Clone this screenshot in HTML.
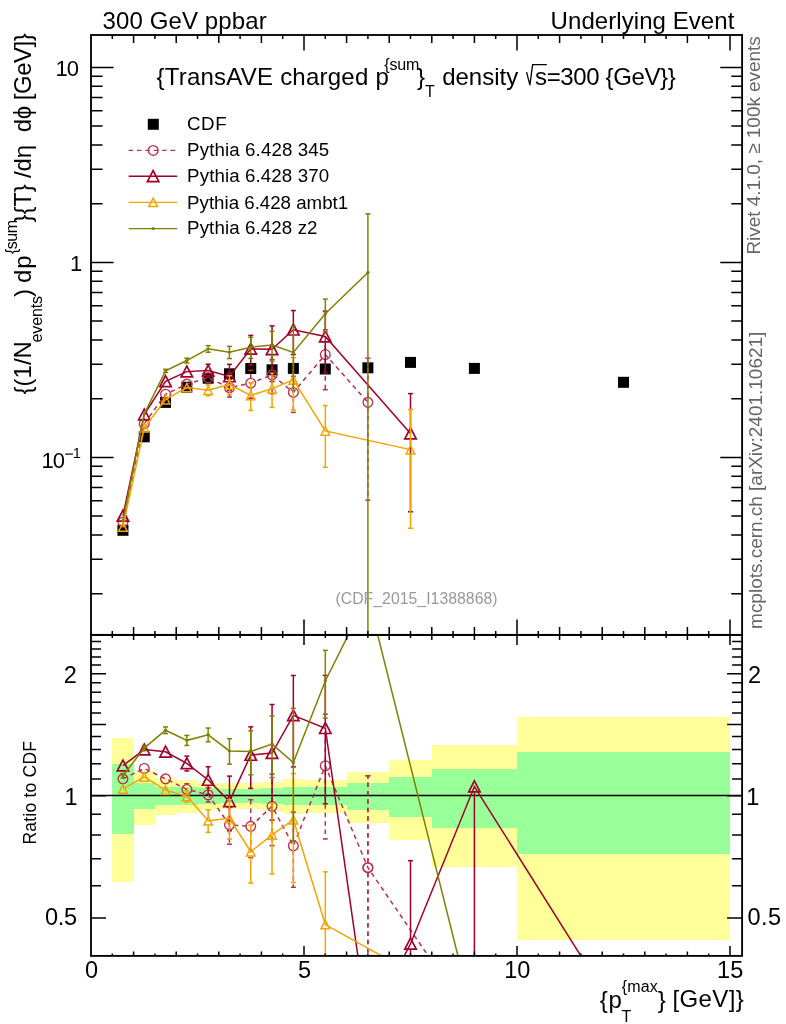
<!DOCTYPE html>
<html><head><meta charset="utf-8"><title>plot</title>
<style>html,body{margin:0;padding:0;background:#fff;} body{width:786px;height:1024px;position:relative;overflow:hidden;}</style>
</head><body>
<svg width="786" height="1024" viewBox="0 0 786 1024" style="position:absolute;left:0;top:0">
<defs><clipPath id="ct"><rect x="91.0" y="35.0" width="651.1" height="599.9"/></clipPath><clipPath id="cr"><rect x="91.0" y="634.9" width="651.1" height="321.0"/></clipPath></defs>
<g clip-path="url(#cr)" shape-rendering="crispEdges">
<rect x="112.30" y="738.17" width="21.30" height="143.83" fill="#ffff99"/>
<rect x="133.60" y="770.87" width="21.30" height="53.97" fill="#ffff99"/>
<rect x="154.90" y="778.21" width="21.30" height="37.13" fill="#ffff99"/>
<rect x="176.20" y="780.14" width="21.30" height="32.86" fill="#ffff99"/>
<rect x="197.50" y="782.90" width="21.30" height="26.83" fill="#ffff99"/>
<rect x="218.80" y="783.39" width="21.30" height="25.76" fill="#ffff99"/>
<rect x="240.10" y="783.22" width="21.30" height="26.12" fill="#ffff99"/>
<rect x="261.40" y="782.08" width="21.30" height="28.60" fill="#ffff99"/>
<rect x="282.70" y="779.17" width="21.30" height="34.99" fill="#ffff99"/>
<rect x="304.00" y="779.81" width="42.60" height="33.57" fill="#ffff99"/>
<rect x="346.60" y="772.10" width="42.60" height="51.09" fill="#ffff99"/>
<rect x="389.20" y="760.48" width="42.60" height="79.53" fill="#ffff99"/>
<rect x="431.80" y="745.43" width="85.20" height="121.17" fill="#ffff99"/>
<rect x="517.00" y="717.47" width="213.00" height="222.95" fill="#ffff99"/>
<rect x="112.30" y="764.42" width="21.30" height="69.59" fill="#99ff99"/>
<rect x="133.60" y="783.39" width="21.30" height="25.76" fill="#99ff99"/>
<rect x="154.90" y="787.04" width="21.30" height="17.98" fill="#99ff99"/>
<rect x="176.20" y="786.70" width="21.30" height="18.69" fill="#99ff99"/>
<rect x="197.50" y="787.71" width="21.30" height="16.57" fill="#99ff99"/>
<rect x="218.80" y="789.23" width="21.30" height="13.39" fill="#99ff99"/>
<rect x="240.10" y="788.89" width="21.30" height="14.10" fill="#99ff99"/>
<rect x="261.40" y="788.38" width="21.30" height="15.16" fill="#99ff99"/>
<rect x="282.70" y="787.21" width="21.30" height="17.63" fill="#99ff99"/>
<rect x="304.00" y="786.87" width="42.60" height="18.34" fill="#99ff99"/>
<rect x="346.60" y="783.06" width="42.60" height="26.47" fill="#99ff99"/>
<rect x="389.20" y="777.10" width="42.60" height="39.62" fill="#99ff99"/>
<rect x="431.80" y="768.60" width="85.20" height="59.39" fill="#99ff99"/>
<rect x="517.00" y="752.32" width="213.00" height="101.35" fill="#99ff99"/>
</g>
<line x1="91.0" y1="795.5" x2="742.1" y2="795.5" stroke="#000" stroke-width="1.4"/>
<g clip-path="url(#ct)">
<rect x="117.45" y="524.80" width="11" height="11" fill="#000"/>
<rect x="138.75" y="431.30" width="11" height="11" fill="#000"/>
<rect x="160.05" y="396.90" width="11" height="11" fill="#000"/>
<rect x="181.35" y="381.70" width="11" height="11" fill="#000"/>
<rect x="202.65" y="372.70" width="11" height="11" fill="#000"/>
<rect x="223.95" y="368.30" width="11" height="11" fill="#000"/>
<rect x="245.25" y="363.00" width="11" height="11" fill="#000"/>
<rect x="266.55" y="364.30" width="11" height="11" fill="#000"/>
<rect x="287.85" y="362.90" width="11" height="11" fill="#000"/>
<rect x="319.80" y="363.50" width="11" height="11" fill="#000"/>
<rect x="362.40" y="362.30" width="11" height="11" fill="#000"/>
<rect x="405.00" y="356.90" width="11" height="11" fill="#000"/>
<rect x="468.90" y="362.90" width="11" height="11" fill="#000"/>
<rect x="618.00" y="376.80" width="11" height="11" fill="#000"/>
<line x1="229.45" y1="382.76" x2="229.45" y2="379.38" stroke="#b8304f" stroke-width="1.5" stroke-dasharray="4.5,3.9"/>
<line x1="226.95" y1="379.38" x2="231.95" y2="379.38" stroke="#b8304f" stroke-width="1.5"/>
<line x1="229.45" y1="392.76" x2="229.45" y2="397.06" stroke="#b8304f" stroke-width="1.5" stroke-dasharray="4.5,3.9"/>
<line x1="226.95" y1="397.06" x2="231.95" y2="397.06" stroke="#b8304f" stroke-width="1.5"/>
<line x1="250.75" y1="378.16" x2="250.75" y2="370.38" stroke="#b8304f" stroke-width="1.5" stroke-dasharray="4.5,3.9"/>
<line x1="248.25" y1="370.38" x2="253.25" y2="370.38" stroke="#b8304f" stroke-width="1.5"/>
<line x1="250.75" y1="388.16" x2="250.75" y2="398.23" stroke="#b8304f" stroke-width="1.5" stroke-dasharray="4.5,3.9"/>
<line x1="248.25" y1="398.23" x2="253.25" y2="398.23" stroke="#b8304f" stroke-width="1.5"/>
<line x1="272.05" y1="369.86" x2="272.05" y2="359.42" stroke="#b8304f" stroke-width="1.5" stroke-dasharray="4.5,3.9"/>
<line x1="269.55" y1="359.42" x2="274.55" y2="359.42" stroke="#b8304f" stroke-width="1.5"/>
<line x1="272.05" y1="379.86" x2="272.05" y2="393.76" stroke="#b8304f" stroke-width="1.5" stroke-dasharray="4.5,3.9"/>
<line x1="269.55" y1="393.76" x2="274.55" y2="393.76" stroke="#b8304f" stroke-width="1.5"/>
<line x1="293.35" y1="387.42" x2="293.35" y2="376.28" stroke="#b8304f" stroke-width="1.5" stroke-dasharray="4.5,3.9"/>
<line x1="290.85" y1="376.28" x2="295.85" y2="376.28" stroke="#b8304f" stroke-width="1.5"/>
<line x1="293.35" y1="397.42" x2="293.35" y2="412.39" stroke="#b8304f" stroke-width="1.5" stroke-dasharray="4.5,3.9"/>
<line x1="290.85" y1="412.39" x2="295.85" y2="412.39" stroke="#b8304f" stroke-width="1.5"/>
<line x1="325.30" y1="349.55" x2="325.30" y2="329.77" stroke="#b8304f" stroke-width="1.5" stroke-dasharray="4.5,3.9"/>
<line x1="322.80" y1="329.77" x2="327.80" y2="329.77" stroke="#b8304f" stroke-width="1.5"/>
<line x1="325.30" y1="359.55" x2="325.30" y2="389.74" stroke="#b8304f" stroke-width="1.5" stroke-dasharray="4.5,3.9"/>
<line x1="322.80" y1="389.74" x2="327.80" y2="389.74" stroke="#b8304f" stroke-width="1.5"/>
<line x1="367.90" y1="397.35" x2="367.90" y2="358.16" stroke="#b8304f" stroke-width="1.5" stroke-dasharray="4.5,3.9"/>
<line x1="365.40" y1="358.16" x2="370.40" y2="358.16" stroke="#b8304f" stroke-width="1.5"/>
<line x1="367.90" y1="407.35" x2="367.90" y2="500.18" stroke="#b8304f" stroke-width="1.5" stroke-dasharray="4.5,3.9"/>
<line x1="365.40" y1="500.18" x2="370.40" y2="500.18" stroke="#b8304f" stroke-width="1.5"/>
<polyline points="122.95,522.15 144.25,423.65 165.55,394.25 186.85,384.12 208.15,377.69 229.45,387.76 250.75,383.16 272.05,374.86 293.35,392.42 325.30,354.55 367.90,402.35" fill="none" stroke="#b8304f" stroke-width="1.5" stroke-dasharray="4.5,3.9"/>
<circle cx="122.95" cy="522.15" r="4.85" fill="none" stroke="#b8304f" stroke-width="1.35"/>
<circle cx="144.25" cy="423.65" r="4.85" fill="none" stroke="#b8304f" stroke-width="1.35"/>
<circle cx="165.55" cy="394.25" r="4.85" fill="none" stroke="#b8304f" stroke-width="1.35"/>
<circle cx="186.85" cy="384.12" r="4.85" fill="none" stroke="#b8304f" stroke-width="1.35"/>
<circle cx="208.15" cy="377.69" r="4.85" fill="none" stroke="#b8304f" stroke-width="1.35"/>
<circle cx="229.45" cy="387.76" r="4.85" fill="none" stroke="#b8304f" stroke-width="1.35"/>
<circle cx="250.75" cy="383.16" r="4.85" fill="none" stroke="#b8304f" stroke-width="1.35"/>
<circle cx="272.05" cy="374.86" r="4.85" fill="none" stroke="#b8304f" stroke-width="1.35"/>
<circle cx="293.35" cy="392.42" r="4.85" fill="none" stroke="#b8304f" stroke-width="1.35"/>
<circle cx="325.30" cy="354.55" r="4.85" fill="none" stroke="#b8304f" stroke-width="1.35"/>
<circle cx="367.90" cy="402.35" r="4.85" fill="none" stroke="#b8304f" stroke-width="1.35"/>
<line x1="208.15" y1="364.59" x2="208.15" y2="364.23" stroke="#a0002a" stroke-width="1.5"/>
<line x1="205.65" y1="364.23" x2="210.65" y2="364.23" stroke="#a0002a" stroke-width="1.5"/>
<line x1="208.15" y1="376.59" x2="208.15" y2="377.47" stroke="#a0002a" stroke-width="1.5"/>
<line x1="205.65" y1="377.47" x2="210.65" y2="377.47" stroke="#a0002a" stroke-width="1.5"/>
<line x1="229.45" y1="370.47" x2="229.45" y2="364.34" stroke="#a0002a" stroke-width="1.5"/>
<line x1="226.95" y1="364.34" x2="231.95" y2="364.34" stroke="#a0002a" stroke-width="1.5"/>
<line x1="229.45" y1="382.47" x2="229.45" y2="390.63" stroke="#a0002a" stroke-width="1.5"/>
<line x1="226.95" y1="390.63" x2="231.95" y2="390.63" stroke="#a0002a" stroke-width="1.5"/>
<line x1="250.75" y1="342.86" x2="250.75" y2="335.35" stroke="#a0002a" stroke-width="1.5"/>
<line x1="248.25" y1="335.35" x2="253.25" y2="335.35" stroke="#a0002a" stroke-width="1.5"/>
<line x1="250.75" y1="354.86" x2="250.75" y2="364.95" stroke="#a0002a" stroke-width="1.5"/>
<line x1="248.25" y1="364.95" x2="253.25" y2="364.95" stroke="#a0002a" stroke-width="1.5"/>
<line x1="272.05" y1="343.23" x2="272.05" y2="325.91" stroke="#a0002a" stroke-width="1.5"/>
<line x1="269.55" y1="325.91" x2="274.55" y2="325.91" stroke="#a0002a" stroke-width="1.5"/>
<line x1="272.05" y1="355.23" x2="272.05" y2="381.51" stroke="#a0002a" stroke-width="1.5"/>
<line x1="269.55" y1="381.51" x2="274.55" y2="381.51" stroke="#a0002a" stroke-width="1.5"/>
<line x1="293.35" y1="323.72" x2="293.35" y2="310.55" stroke="#a0002a" stroke-width="1.5"/>
<line x1="290.85" y1="310.55" x2="295.85" y2="310.55" stroke="#a0002a" stroke-width="1.5"/>
<line x1="293.35" y1="335.72" x2="293.35" y2="354.53" stroke="#a0002a" stroke-width="1.5"/>
<line x1="290.85" y1="354.53" x2="295.85" y2="354.53" stroke="#a0002a" stroke-width="1.5"/>
<line x1="325.30" y1="330.49" x2="325.30" y2="311.14" stroke="#a0002a" stroke-width="1.5"/>
<line x1="322.80" y1="311.14" x2="327.80" y2="311.14" stroke="#a0002a" stroke-width="1.5"/>
<line x1="325.30" y1="342.49" x2="325.30" y2="372.84" stroke="#a0002a" stroke-width="1.5"/>
<line x1="322.80" y1="372.84" x2="327.80" y2="372.84" stroke="#a0002a" stroke-width="1.5"/>
<line x1="410.50" y1="427.54" x2="410.50" y2="393.58" stroke="#a0002a" stroke-width="1.5"/>
<line x1="408.00" y1="393.58" x2="413.00" y2="393.58" stroke="#a0002a" stroke-width="1.5"/>
<line x1="410.50" y1="439.54" x2="410.50" y2="511.78" stroke="#a0002a" stroke-width="1.5"/>
<line x1="408.00" y1="511.78" x2="413.00" y2="511.78" stroke="#a0002a" stroke-width="1.5"/>
<polyline points="122.95,515.78 144.25,414.58 165.55,381.23 186.85,371.62 208.15,370.59 229.45,376.47 250.75,348.86 272.05,349.23 293.35,329.72 325.30,336.49 410.50,433.54" fill="none" stroke="#a0002a" stroke-width="1.5"/>
<path d="M117.25,521.08L128.65,521.08L122.95,510.18Z" fill="none" stroke="#a0002a" stroke-width="1.7"/>
<path d="M138.55,419.88L149.95,419.88L144.25,408.98Z" fill="none" stroke="#a0002a" stroke-width="1.7"/>
<path d="M159.85,386.53L171.25,386.53L165.55,375.63Z" fill="none" stroke="#a0002a" stroke-width="1.7"/>
<path d="M181.15,376.92L192.55,376.92L186.85,366.02Z" fill="none" stroke="#a0002a" stroke-width="1.7"/>
<path d="M202.45,375.89L213.85,375.89L208.15,364.99Z" fill="none" stroke="#a0002a" stroke-width="1.7"/>
<path d="M223.75,381.77L235.15,381.77L229.45,370.87Z" fill="none" stroke="#a0002a" stroke-width="1.7"/>
<path d="M245.05,354.16L256.45,354.16L250.75,343.26Z" fill="none" stroke="#a0002a" stroke-width="1.7"/>
<path d="M266.35,354.53L277.75,354.53L272.05,343.63Z" fill="none" stroke="#a0002a" stroke-width="1.7"/>
<path d="M287.65,335.02L299.05,335.02L293.35,324.12Z" fill="none" stroke="#a0002a" stroke-width="1.7"/>
<path d="M319.60,341.79L331.00,341.79L325.30,330.89Z" fill="none" stroke="#a0002a" stroke-width="1.7"/>
<path d="M404.80,438.84L416.20,438.84L410.50,427.94Z" fill="none" stroke="#a0002a" stroke-width="1.7"/>
<line x1="208.15" y1="385.69" x2="208.15" y2="384.94" stroke="#f5a300" stroke-width="1.5"/>
<line x1="205.65" y1="384.94" x2="210.65" y2="384.94" stroke="#f5a300" stroke-width="1.5"/>
<line x1="208.15" y1="394.69" x2="208.15" y2="395.79" stroke="#f5a300" stroke-width="1.5"/>
<line x1="205.65" y1="395.79" x2="210.65" y2="395.79" stroke="#f5a300" stroke-width="1.5"/>
<line x1="229.45" y1="380.13" x2="229.45" y2="375.71" stroke="#f5a300" stroke-width="1.5"/>
<line x1="226.95" y1="375.71" x2="231.95" y2="375.71" stroke="#f5a300" stroke-width="1.5"/>
<line x1="229.45" y1="389.13" x2="229.45" y2="394.59" stroke="#f5a300" stroke-width="1.5"/>
<line x1="226.95" y1="394.59" x2="231.95" y2="394.59" stroke="#f5a300" stroke-width="1.5"/>
<line x1="250.75" y1="390.88" x2="250.75" y2="382.60" stroke="#f5a300" stroke-width="1.5"/>
<line x1="248.25" y1="382.60" x2="253.25" y2="382.60" stroke="#f5a300" stroke-width="1.5"/>
<line x1="250.75" y1="399.88" x2="250.75" y2="410.45" stroke="#f5a300" stroke-width="1.5"/>
<line x1="248.25" y1="410.45" x2="253.25" y2="410.45" stroke="#f5a300" stroke-width="1.5"/>
<line x1="272.05" y1="384.13" x2="272.05" y2="373.26" stroke="#f5a300" stroke-width="1.5"/>
<line x1="269.55" y1="373.26" x2="274.55" y2="373.26" stroke="#f5a300" stroke-width="1.5"/>
<line x1="272.05" y1="393.13" x2="272.05" y2="407.43" stroke="#f5a300" stroke-width="1.5"/>
<line x1="269.55" y1="407.43" x2="274.55" y2="407.43" stroke="#f5a300" stroke-width="1.5"/>
<line x1="293.35" y1="375.40" x2="293.35" y2="357.68" stroke="#f5a300" stroke-width="1.5"/>
<line x1="290.85" y1="357.68" x2="295.85" y2="357.68" stroke="#f5a300" stroke-width="1.5"/>
<line x1="293.35" y1="384.40" x2="293.35" y2="410.11" stroke="#f5a300" stroke-width="1.5"/>
<line x1="290.85" y1="410.11" x2="295.85" y2="410.11" stroke="#f5a300" stroke-width="1.5"/>
<line x1="325.30" y1="426.39" x2="325.30" y2="405.54" stroke="#f5a300" stroke-width="1.5"/>
<line x1="322.80" y1="405.54" x2="327.80" y2="405.54" stroke="#f5a300" stroke-width="1.5"/>
<line x1="325.30" y1="435.39" x2="325.30" y2="467.25" stroke="#f5a300" stroke-width="1.5"/>
<line x1="322.80" y1="467.25" x2="327.80" y2="467.25" stroke="#f5a300" stroke-width="1.5"/>
<line x1="410.50" y1="445.13" x2="410.50" y2="409.56" stroke="#f5a300" stroke-width="1.5"/>
<line x1="408.00" y1="409.56" x2="413.00" y2="409.56" stroke="#f5a300" stroke-width="1.5"/>
<line x1="410.50" y1="454.13" x2="410.50" y2="528.29" stroke="#f5a300" stroke-width="1.5"/>
<line x1="408.00" y1="528.29" x2="413.00" y2="528.29" stroke="#f5a300" stroke-width="1.5"/>
<polyline points="122.95,526.98 144.25,427.73 165.55,399.65 186.85,387.45 208.15,390.19 229.45,384.63 250.75,395.38 272.05,388.63 293.35,379.90 325.30,430.89 410.50,449.63" fill="none" stroke="#f5a300" stroke-width="1.5"/>
<path d="M118.65,531.28L127.25,531.28L122.95,522.83Z" fill="none" stroke="#f5a300" stroke-width="1.5"/>
<path d="M139.95,432.03L148.55,432.03L144.25,423.58Z" fill="none" stroke="#f5a300" stroke-width="1.5"/>
<path d="M161.25,403.95L169.85,403.95L165.55,395.50Z" fill="none" stroke="#f5a300" stroke-width="1.5"/>
<path d="M182.55,391.75L191.15,391.75L186.85,383.30Z" fill="none" stroke="#f5a300" stroke-width="1.5"/>
<path d="M203.85,394.49L212.45,394.49L208.15,386.04Z" fill="none" stroke="#f5a300" stroke-width="1.5"/>
<path d="M225.15,388.93L233.75,388.93L229.45,380.48Z" fill="none" stroke="#f5a300" stroke-width="1.5"/>
<path d="M246.45,399.68L255.05,399.68L250.75,391.23Z" fill="none" stroke="#f5a300" stroke-width="1.5"/>
<path d="M267.75,392.93L276.35,392.93L272.05,384.48Z" fill="none" stroke="#f5a300" stroke-width="1.5"/>
<path d="M289.05,384.20L297.65,384.20L293.35,375.75Z" fill="none" stroke="#f5a300" stroke-width="1.5"/>
<path d="M321.00,435.19L329.60,435.19L325.30,426.74Z" fill="none" stroke="#f5a300" stroke-width="1.5"/>
<path d="M406.20,453.93L414.80,453.93L410.50,445.48Z" fill="none" stroke="#f5a300" stroke-width="1.5"/>
<line x1="165.55" y1="369.37" x2="165.55" y2="369.28" stroke="#808000" stroke-width="1.5"/>
<line x1="163.05" y1="369.28" x2="168.05" y2="369.28" stroke="#808000" stroke-width="1.5"/>
<line x1="165.55" y1="372.37" x2="165.55" y2="372.50" stroke="#808000" stroke-width="1.5"/>
<line x1="163.05" y1="372.50" x2="168.05" y2="372.50" stroke="#808000" stroke-width="1.5"/>
<line x1="186.85" y1="359.04" x2="186.85" y2="358.16" stroke="#808000" stroke-width="1.5"/>
<line x1="184.35" y1="358.16" x2="189.35" y2="358.16" stroke="#808000" stroke-width="1.5"/>
<line x1="186.85" y1="362.04" x2="186.85" y2="362.99" stroke="#808000" stroke-width="1.5"/>
<line x1="184.35" y1="362.99" x2="189.35" y2="362.99" stroke="#808000" stroke-width="1.5"/>
<line x1="208.15" y1="347.36" x2="208.15" y2="345.62" stroke="#808000" stroke-width="1.5"/>
<line x1="205.65" y1="345.62" x2="210.65" y2="345.62" stroke="#808000" stroke-width="1.5"/>
<line x1="208.15" y1="350.36" x2="208.15" y2="352.23" stroke="#808000" stroke-width="1.5"/>
<line x1="205.65" y1="352.23" x2="210.65" y2="352.23" stroke="#808000" stroke-width="1.5"/>
<line x1="229.45" y1="350.74" x2="229.45" y2="346.35" stroke="#808000" stroke-width="1.5"/>
<line x1="226.95" y1="346.35" x2="231.95" y2="346.35" stroke="#808000" stroke-width="1.5"/>
<line x1="229.45" y1="353.74" x2="229.45" y2="358.56" stroke="#808000" stroke-width="1.5"/>
<line x1="226.95" y1="358.56" x2="231.95" y2="358.56" stroke="#808000" stroke-width="1.5"/>
<line x1="250.75" y1="345.70" x2="250.75" y2="337.30" stroke="#808000" stroke-width="1.5"/>
<line x1="248.25" y1="337.30" x2="253.25" y2="337.30" stroke="#808000" stroke-width="1.5"/>
<line x1="250.75" y1="348.70" x2="250.75" y2="358.41" stroke="#808000" stroke-width="1.5"/>
<line x1="248.25" y1="358.41" x2="253.25" y2="358.41" stroke="#808000" stroke-width="1.5"/>
<line x1="272.05" y1="343.45" x2="272.05" y2="331.44" stroke="#808000" stroke-width="1.5"/>
<line x1="269.55" y1="331.44" x2="274.55" y2="331.44" stroke="#808000" stroke-width="1.5"/>
<line x1="272.05" y1="346.45" x2="272.05" y2="361.04" stroke="#808000" stroke-width="1.5"/>
<line x1="269.55" y1="361.04" x2="274.55" y2="361.04" stroke="#808000" stroke-width="1.5"/>
<line x1="293.35" y1="350.90" x2="293.35" y2="326.36" stroke="#808000" stroke-width="1.5"/>
<line x1="290.85" y1="326.36" x2="295.85" y2="326.36" stroke="#808000" stroke-width="1.5"/>
<line x1="293.35" y1="353.90" x2="293.35" y2="390.19" stroke="#808000" stroke-width="1.5"/>
<line x1="290.85" y1="390.19" x2="295.85" y2="390.19" stroke="#808000" stroke-width="1.5"/>
<line x1="325.30" y1="312.30" x2="325.30" y2="299.07" stroke="#808000" stroke-width="1.5"/>
<line x1="322.80" y1="299.07" x2="327.80" y2="299.07" stroke="#808000" stroke-width="1.5"/>
<line x1="325.30" y1="315.30" x2="325.30" y2="331.65" stroke="#808000" stroke-width="1.5"/>
<line x1="322.80" y1="331.65" x2="327.80" y2="331.65" stroke="#808000" stroke-width="1.5"/>
<line x1="367.90" y1="271.00" x2="367.90" y2="213.80" stroke="#808000" stroke-width="1.5"/>
<line x1="365.40" y1="213.80" x2="370.40" y2="213.80" stroke="#808000" stroke-width="1.5"/>
<line x1="367.90" y1="274.00" x2="367.90" y2="639.90" stroke="#808000" stroke-width="1.5"/>
<line x1="365.40" y1="639.90" x2="370.40" y2="639.90" stroke="#808000" stroke-width="1.5"/>
<polyline points="122.95,520.63 144.25,413.87 165.55,370.87 186.85,360.54 208.15,348.86 229.45,352.24 250.75,347.20 272.05,344.95 293.35,352.40 325.30,313.80 367.90,272.50" fill="none" stroke="#808000" stroke-width="1.5"/>
<circle cx="122.95" cy="520.63" r="1.7" fill="#808000"/>
<circle cx="144.25" cy="413.87" r="1.7" fill="#808000"/>
<circle cx="165.55" cy="370.87" r="1.7" fill="#808000"/>
<circle cx="186.85" cy="360.54" r="1.7" fill="#808000"/>
<circle cx="208.15" cy="348.86" r="1.7" fill="#808000"/>
<circle cx="229.45" cy="352.24" r="1.7" fill="#808000"/>
<circle cx="250.75" cy="347.20" r="1.7" fill="#808000"/>
<circle cx="272.05" cy="344.95" r="1.7" fill="#808000"/>
<circle cx="293.35" cy="352.40" r="1.7" fill="#808000"/>
<circle cx="325.30" cy="313.80" r="1.7" fill="#808000"/>
<circle cx="367.90" cy="272.50" r="1.7" fill="#808000"/>
</g>
<g clip-path="url(#cr)">
<line x1="186.85" y1="784.40" x2="186.85" y2="783.68" stroke="#b8304f" stroke-width="1.5" stroke-dasharray="4.5,3.9"/>
<line x1="184.35" y1="783.68" x2="189.35" y2="783.68" stroke="#b8304f" stroke-width="1.5"/>
<line x1="186.85" y1="794.40" x2="186.85" y2="795.31" stroke="#b8304f" stroke-width="1.5" stroke-dasharray="4.5,3.9"/>
<line x1="184.35" y1="795.31" x2="189.35" y2="795.31" stroke="#b8304f" stroke-width="1.5"/>
<line x1="208.15" y1="789.75" x2="208.15" y2="787.84" stroke="#b8304f" stroke-width="1.5" stroke-dasharray="4.5,3.9"/>
<line x1="205.65" y1="787.84" x2="210.65" y2="787.84" stroke="#b8304f" stroke-width="1.5"/>
<line x1="208.15" y1="799.75" x2="208.15" y2="801.94" stroke="#b8304f" stroke-width="1.5" stroke-dasharray="4.5,3.9"/>
<line x1="205.65" y1="801.94" x2="210.65" y2="801.94" stroke="#b8304f" stroke-width="1.5"/>
<line x1="229.45" y1="819.84" x2="229.45" y2="807.41" stroke="#b8304f" stroke-width="1.5" stroke-dasharray="4.5,3.9"/>
<line x1="226.95" y1="807.41" x2="231.95" y2="807.41" stroke="#b8304f" stroke-width="1.5"/>
<line x1="229.45" y1="829.84" x2="229.45" y2="844.19" stroke="#b8304f" stroke-width="1.5" stroke-dasharray="4.5,3.9"/>
<line x1="226.95" y1="844.19" x2="231.95" y2="844.19" stroke="#b8304f" stroke-width="1.5"/>
<line x1="250.75" y1="821.30" x2="250.75" y2="799.70" stroke="#b8304f" stroke-width="1.5" stroke-dasharray="4.5,3.9"/>
<line x1="248.25" y1="799.70" x2="253.25" y2="799.70" stroke="#b8304f" stroke-width="1.5"/>
<line x1="250.75" y1="831.30" x2="250.75" y2="857.65" stroke="#b8304f" stroke-width="1.5" stroke-dasharray="4.5,3.9"/>
<line x1="248.25" y1="857.65" x2="253.25" y2="857.65" stroke="#b8304f" stroke-width="1.5"/>
<line x1="272.05" y1="801.32" x2="272.05" y2="774.21" stroke="#b8304f" stroke-width="1.5" stroke-dasharray="4.5,3.9"/>
<line x1="269.55" y1="774.21" x2="274.55" y2="774.21" stroke="#b8304f" stroke-width="1.5"/>
<line x1="272.05" y1="811.32" x2="272.05" y2="845.63" stroke="#b8304f" stroke-width="1.5" stroke-dasharray="4.5,3.9"/>
<line x1="269.55" y1="845.63" x2="274.55" y2="845.63" stroke="#b8304f" stroke-width="1.5"/>
<line x1="293.35" y1="840.77" x2="293.35" y2="812.19" stroke="#b8304f" stroke-width="1.5" stroke-dasharray="4.5,3.9"/>
<line x1="290.85" y1="812.19" x2="295.85" y2="812.19" stroke="#b8304f" stroke-width="1.5"/>
<line x1="293.35" y1="850.77" x2="293.35" y2="887.29" stroke="#b8304f" stroke-width="1.5" stroke-dasharray="4.5,3.9"/>
<line x1="290.85" y1="887.29" x2="295.85" y2="887.29" stroke="#b8304f" stroke-width="1.5"/>
<line x1="325.30" y1="760.75" x2="325.30" y2="714.20" stroke="#b8304f" stroke-width="1.5" stroke-dasharray="4.5,3.9"/>
<line x1="322.80" y1="714.20" x2="327.80" y2="714.20" stroke="#b8304f" stroke-width="1.5"/>
<line x1="325.30" y1="770.75" x2="325.30" y2="838.94" stroke="#b8304f" stroke-width="1.5" stroke-dasharray="4.5,3.9"/>
<line x1="322.80" y1="838.94" x2="327.80" y2="838.94" stroke="#b8304f" stroke-width="1.5"/>
<line x1="367.90" y1="862.66" x2="367.90" y2="775.75" stroke="#b8304f" stroke-width="1.5" stroke-dasharray="4.5,3.9"/>
<line x1="365.40" y1="775.75" x2="370.40" y2="775.75" stroke="#b8304f" stroke-width="1.5"/>
<line x1="367.90" y1="872.66" x2="367.90" y2="960.90" stroke="#b8304f" stroke-width="1.5" stroke-dasharray="4.5,3.9"/>
<line x1="365.40" y1="960.90" x2="370.40" y2="960.90" stroke="#b8304f" stroke-width="1.5"/>
<line x1="367.90" y1="862.66" x2="367.90" y2="775.75" stroke="#b8304f" stroke-width="1.5" stroke-dasharray="4.5,3.9"/>
<line x1="365.40" y1="775.75" x2="370.40" y2="775.75" stroke="#b8304f" stroke-width="1.5"/>
<line x1="367.90" y1="872.66" x2="367.90" y2="1071.15" stroke="#b8304f" stroke-width="1.5" stroke-dasharray="4.5,3.9"/>
<line x1="365.40" y1="1071.15" x2="370.40" y2="1071.15" stroke="#b8304f" stroke-width="1.5"/>
<polyline points="122.95,778.85 144.25,768.45 165.55,778.85 186.85,789.40 208.15,794.75 229.45,824.84 250.75,826.30 272.05,806.32 293.35,845.77 325.30,765.75 367.90,867.66 367.90,867.66 474.40,1023.50" fill="none" stroke="#b8304f" stroke-width="1.5" stroke-dasharray="4.5,3.9"/>
<circle cx="122.95" cy="778.85" r="4.85" fill="none" stroke="#b8304f" stroke-width="1.35"/>
<circle cx="144.25" cy="768.45" r="4.85" fill="none" stroke="#b8304f" stroke-width="1.35"/>
<circle cx="165.55" cy="778.85" r="4.85" fill="none" stroke="#b8304f" stroke-width="1.35"/>
<circle cx="186.85" cy="789.40" r="4.85" fill="none" stroke="#b8304f" stroke-width="1.35"/>
<circle cx="208.15" cy="794.75" r="4.85" fill="none" stroke="#b8304f" stroke-width="1.35"/>
<circle cx="229.45" cy="824.84" r="4.85" fill="none" stroke="#b8304f" stroke-width="1.35"/>
<circle cx="250.75" cy="826.30" r="4.85" fill="none" stroke="#b8304f" stroke-width="1.35"/>
<circle cx="272.05" cy="806.32" r="4.85" fill="none" stroke="#b8304f" stroke-width="1.35"/>
<circle cx="293.35" cy="845.77" r="4.85" fill="none" stroke="#b8304f" stroke-width="1.35"/>
<circle cx="325.30" cy="765.75" r="4.85" fill="none" stroke="#b8304f" stroke-width="1.35"/>
<circle cx="367.90" cy="867.66" r="4.85" fill="none" stroke="#b8304f" stroke-width="1.35"/>
<circle cx="367.90" cy="867.66" r="4.85" fill="none" stroke="#b8304f" stroke-width="1.35"/>
<line x1="186.85" y1="757.39" x2="186.85" y2="756.14" stroke="#a0002a" stroke-width="1.5"/>
<line x1="184.35" y1="756.14" x2="189.35" y2="756.14" stroke="#a0002a" stroke-width="1.5"/>
<line x1="186.85" y1="769.39" x2="186.85" y2="770.95" stroke="#a0002a" stroke-width="1.5"/>
<line x1="184.35" y1="770.95" x2="189.35" y2="770.95" stroke="#a0002a" stroke-width="1.5"/>
<line x1="208.15" y1="773.97" x2="208.15" y2="766.74" stroke="#a0002a" stroke-width="1.5"/>
<line x1="205.65" y1="766.74" x2="210.65" y2="766.74" stroke="#a0002a" stroke-width="1.5"/>
<line x1="208.15" y1="785.97" x2="208.15" y2="794.28" stroke="#a0002a" stroke-width="1.5"/>
<line x1="205.65" y1="794.28" x2="210.65" y2="794.28" stroke="#a0002a" stroke-width="1.5"/>
<line x1="229.45" y1="795.35" x2="229.45" y2="776.12" stroke="#a0002a" stroke-width="1.5"/>
<line x1="226.95" y1="776.12" x2="231.95" y2="776.12" stroke="#a0002a" stroke-width="1.5"/>
<line x1="229.45" y1="807.35" x2="229.45" y2="830.81" stroke="#a0002a" stroke-width="1.5"/>
<line x1="226.95" y1="830.81" x2="231.95" y2="830.81" stroke="#a0002a" stroke-width="1.5"/>
<line x1="250.75" y1="748.95" x2="250.75" y2="726.84" stroke="#a0002a" stroke-width="1.5"/>
<line x1="248.25" y1="726.84" x2="253.25" y2="726.84" stroke="#a0002a" stroke-width="1.5"/>
<line x1="250.75" y1="760.95" x2="250.75" y2="788.41" stroke="#a0002a" stroke-width="1.5"/>
<line x1="248.25" y1="788.41" x2="253.25" y2="788.41" stroke="#a0002a" stroke-width="1.5"/>
<line x1="272.05" y1="747.01" x2="272.05" y2="704.50" stroke="#a0002a" stroke-width="1.5"/>
<line x1="269.55" y1="704.50" x2="274.55" y2="704.50" stroke="#a0002a" stroke-width="1.5"/>
<line x1="272.05" y1="759.01" x2="272.05" y2="820.16" stroke="#a0002a" stroke-width="1.5"/>
<line x1="269.55" y1="820.16" x2="274.55" y2="820.16" stroke="#a0002a" stroke-width="1.5"/>
<line x1="293.35" y1="709.34" x2="293.35" y2="675.47" stroke="#a0002a" stroke-width="1.5"/>
<line x1="290.85" y1="675.47" x2="295.85" y2="675.47" stroke="#a0002a" stroke-width="1.5"/>
<line x1="293.35" y1="721.34" x2="293.35" y2="766.95" stroke="#a0002a" stroke-width="1.5"/>
<line x1="290.85" y1="766.95" x2="295.85" y2="766.95" stroke="#a0002a" stroke-width="1.5"/>
<line x1="325.30" y1="722.18" x2="325.30" y2="675.44" stroke="#a0002a" stroke-width="1.5"/>
<line x1="322.80" y1="675.44" x2="327.80" y2="675.44" stroke="#a0002a" stroke-width="1.5"/>
<line x1="325.30" y1="734.18" x2="325.30" y2="803.79" stroke="#a0002a" stroke-width="1.5"/>
<line x1="322.80" y1="803.79" x2="327.80" y2="803.79" stroke="#a0002a" stroke-width="1.5"/>
<line x1="410.50" y1="937.77" x2="410.50" y2="860.65" stroke="#a0002a" stroke-width="1.5"/>
<line x1="408.00" y1="860.65" x2="413.00" y2="860.65" stroke="#a0002a" stroke-width="1.5"/>
<line x1="410.50" y1="949.77" x2="410.50" y2="1106.50" stroke="#a0002a" stroke-width="1.5"/>
<line x1="408.00" y1="1106.50" x2="413.00" y2="1106.50" stroke="#a0002a" stroke-width="1.5"/>
<line x1="474.40" y1="792.54" x2="474.40" y2="960.90" stroke="#a0002a" stroke-width="1.5"/>
<line x1="471.90" y1="960.90" x2="476.90" y2="960.90" stroke="#a0002a" stroke-width="1.5"/>
<polyline points="122.95,765.60 144.25,749.58 165.55,751.77 186.85,763.39 208.15,779.97 229.45,801.35 250.75,754.95 272.05,753.01 293.35,715.34 325.30,728.18 367.90,1026.00 410.50,943.77 474.40,786.54 623.50,1023.70" fill="none" stroke="#a0002a" stroke-width="1.5"/>
<path d="M117.25,770.90L128.65,770.90L122.95,760.00Z" fill="none" stroke="#a0002a" stroke-width="1.7"/>
<path d="M138.55,754.88L149.95,754.88L144.25,743.98Z" fill="none" stroke="#a0002a" stroke-width="1.7"/>
<path d="M159.85,757.07L171.25,757.07L165.55,746.17Z" fill="none" stroke="#a0002a" stroke-width="1.7"/>
<path d="M181.15,768.69L192.55,768.69L186.85,757.79Z" fill="none" stroke="#a0002a" stroke-width="1.7"/>
<path d="M202.45,785.27L213.85,785.27L208.15,774.37Z" fill="none" stroke="#a0002a" stroke-width="1.7"/>
<path d="M223.75,806.65L235.15,806.65L229.45,795.75Z" fill="none" stroke="#a0002a" stroke-width="1.7"/>
<path d="M245.05,760.25L256.45,760.25L250.75,749.35Z" fill="none" stroke="#a0002a" stroke-width="1.7"/>
<path d="M266.35,758.31L277.75,758.31L272.05,747.41Z" fill="none" stroke="#a0002a" stroke-width="1.7"/>
<path d="M287.65,720.64L299.05,720.64L293.35,709.74Z" fill="none" stroke="#a0002a" stroke-width="1.7"/>
<path d="M319.60,733.48L331.00,733.48L325.30,722.58Z" fill="none" stroke="#a0002a" stroke-width="1.7"/>
<path d="M404.80,949.07L416.20,949.07L410.50,938.17Z" fill="none" stroke="#a0002a" stroke-width="1.7"/>
<path d="M468.70,791.84L480.10,791.84L474.40,780.94Z" fill="none" stroke="#a0002a" stroke-width="1.7"/>
<line x1="186.85" y1="791.83" x2="186.85" y2="790.78" stroke="#f5a300" stroke-width="1.5"/>
<line x1="184.35" y1="790.78" x2="189.35" y2="790.78" stroke="#f5a300" stroke-width="1.5"/>
<line x1="186.85" y1="800.83" x2="186.85" y2="802.06" stroke="#f5a300" stroke-width="1.5"/>
<line x1="184.35" y1="802.06" x2="189.35" y2="802.06" stroke="#f5a300" stroke-width="1.5"/>
<line x1="208.15" y1="816.24" x2="208.15" y2="809.81" stroke="#f5a300" stroke-width="1.5"/>
<line x1="205.65" y1="809.81" x2="210.65" y2="809.81" stroke="#f5a300" stroke-width="1.5"/>
<line x1="208.15" y1="825.24" x2="208.15" y2="832.39" stroke="#f5a300" stroke-width="1.5"/>
<line x1="205.65" y1="832.39" x2="210.65" y2="832.39" stroke="#f5a300" stroke-width="1.5"/>
<line x1="229.45" y1="813.82" x2="229.45" y2="799.78" stroke="#f5a300" stroke-width="1.5"/>
<line x1="226.95" y1="799.78" x2="231.95" y2="799.78" stroke="#f5a300" stroke-width="1.5"/>
<line x1="229.45" y1="822.82" x2="229.45" y2="839.04" stroke="#f5a300" stroke-width="1.5"/>
<line x1="226.95" y1="839.04" x2="231.95" y2="839.04" stroke="#f5a300" stroke-width="1.5"/>
<line x1="250.75" y1="847.22" x2="250.75" y2="825.12" stroke="#f5a300" stroke-width="1.5"/>
<line x1="248.25" y1="825.12" x2="253.25" y2="825.12" stroke="#f5a300" stroke-width="1.5"/>
<line x1="250.75" y1="856.22" x2="250.75" y2="883.06" stroke="#f5a300" stroke-width="1.5"/>
<line x1="248.25" y1="883.06" x2="253.25" y2="883.06" stroke="#f5a300" stroke-width="1.5"/>
<line x1="272.05" y1="830.47" x2="272.05" y2="803.01" stroke="#f5a300" stroke-width="1.5"/>
<line x1="269.55" y1="803.01" x2="274.55" y2="803.01" stroke="#f5a300" stroke-width="1.5"/>
<line x1="272.05" y1="839.47" x2="272.05" y2="874.06" stroke="#f5a300" stroke-width="1.5"/>
<line x1="269.55" y1="874.06" x2="274.55" y2="874.06" stroke="#f5a300" stroke-width="1.5"/>
<line x1="293.35" y1="815.22" x2="293.35" y2="773.51" stroke="#f5a300" stroke-width="1.5"/>
<line x1="290.85" y1="773.51" x2="295.85" y2="773.51" stroke="#f5a300" stroke-width="1.5"/>
<line x1="293.35" y1="824.22" x2="293.35" y2="882.55" stroke="#f5a300" stroke-width="1.5"/>
<line x1="290.85" y1="882.55" x2="295.85" y2="882.55" stroke="#f5a300" stroke-width="1.5"/>
<line x1="325.30" y1="920.04" x2="325.30" y2="871.81" stroke="#f5a300" stroke-width="1.5"/>
<line x1="322.80" y1="871.81" x2="327.80" y2="871.81" stroke="#f5a300" stroke-width="1.5"/>
<line x1="325.30" y1="929.04" x2="325.30" y2="1000.15" stroke="#f5a300" stroke-width="1.5"/>
<line x1="322.80" y1="1000.15" x2="327.80" y2="1000.15" stroke="#f5a300" stroke-width="1.5"/>
<polyline points="122.95,788.89 144.25,776.94 165.55,790.08 186.85,796.33 208.15,820.74 229.45,818.32 250.75,851.72 272.05,834.97 293.35,819.72 325.30,924.54 410.50,972.00" fill="none" stroke="#f5a300" stroke-width="1.5"/>
<path d="M118.65,793.19L127.25,793.19L122.95,784.74Z" fill="none" stroke="#f5a300" stroke-width="1.5"/>
<path d="M139.95,781.24L148.55,781.24L144.25,772.79Z" fill="none" stroke="#f5a300" stroke-width="1.5"/>
<path d="M161.25,794.38L169.85,794.38L165.55,785.93Z" fill="none" stroke="#f5a300" stroke-width="1.5"/>
<path d="M182.55,800.63L191.15,800.63L186.85,792.18Z" fill="none" stroke="#f5a300" stroke-width="1.5"/>
<path d="M203.85,825.04L212.45,825.04L208.15,816.59Z" fill="none" stroke="#f5a300" stroke-width="1.5"/>
<path d="M225.15,822.62L233.75,822.62L229.45,814.17Z" fill="none" stroke="#f5a300" stroke-width="1.5"/>
<path d="M246.45,856.02L255.05,856.02L250.75,847.57Z" fill="none" stroke="#f5a300" stroke-width="1.5"/>
<path d="M267.75,839.27L276.35,839.27L272.05,830.82Z" fill="none" stroke="#f5a300" stroke-width="1.5"/>
<path d="M289.05,824.02L297.65,824.02L293.35,815.57Z" fill="none" stroke="#f5a300" stroke-width="1.5"/>
<path d="M321.00,928.84L329.60,928.84L325.30,920.39Z" fill="none" stroke="#f5a300" stroke-width="1.5"/>
<line x1="122.95" y1="774.18" x2="122.95" y2="773.40" stroke="#808000" stroke-width="1.5"/>
<line x1="120.45" y1="773.40" x2="125.45" y2="773.40" stroke="#808000" stroke-width="1.5"/>
<line x1="122.95" y1="777.18" x2="122.95" y2="777.98" stroke="#808000" stroke-width="1.5"/>
<line x1="120.45" y1="777.98" x2="125.45" y2="777.98" stroke="#808000" stroke-width="1.5"/>
<line x1="144.25" y1="746.60" x2="144.25" y2="745.48" stroke="#808000" stroke-width="1.5"/>
<line x1="141.75" y1="745.48" x2="146.75" y2="745.48" stroke="#808000" stroke-width="1.5"/>
<line x1="144.25" y1="749.60" x2="144.25" y2="750.76" stroke="#808000" stroke-width="1.5"/>
<line x1="141.75" y1="750.76" x2="146.75" y2="750.76" stroke="#808000" stroke-width="1.5"/>
<line x1="165.55" y1="728.73" x2="165.55" y2="726.91" stroke="#808000" stroke-width="1.5"/>
<line x1="163.05" y1="726.91" x2="168.05" y2="726.91" stroke="#808000" stroke-width="1.5"/>
<line x1="165.55" y1="731.73" x2="165.55" y2="733.61" stroke="#808000" stroke-width="1.5"/>
<line x1="163.05" y1="733.61" x2="168.05" y2="733.61" stroke="#808000" stroke-width="1.5"/>
<line x1="186.85" y1="738.85" x2="186.85" y2="735.40" stroke="#808000" stroke-width="1.5"/>
<line x1="184.35" y1="735.40" x2="189.35" y2="735.40" stroke="#808000" stroke-width="1.5"/>
<line x1="186.85" y1="741.85" x2="186.85" y2="745.44" stroke="#808000" stroke-width="1.5"/>
<line x1="184.35" y1="745.44" x2="189.35" y2="745.44" stroke="#808000" stroke-width="1.5"/>
<line x1="208.15" y1="733.28" x2="208.15" y2="728.04" stroke="#808000" stroke-width="1.5"/>
<line x1="205.65" y1="728.04" x2="210.65" y2="728.04" stroke="#808000" stroke-width="1.5"/>
<line x1="208.15" y1="736.28" x2="208.15" y2="741.79" stroke="#808000" stroke-width="1.5"/>
<line x1="205.65" y1="741.79" x2="210.65" y2="741.79" stroke="#808000" stroke-width="1.5"/>
<line x1="229.45" y1="749.44" x2="229.45" y2="738.70" stroke="#808000" stroke-width="1.5"/>
<line x1="226.95" y1="738.70" x2="231.95" y2="738.70" stroke="#808000" stroke-width="1.5"/>
<line x1="229.45" y1="752.44" x2="229.45" y2="764.11" stroke="#808000" stroke-width="1.5"/>
<line x1="226.95" y1="764.11" x2="231.95" y2="764.11" stroke="#808000" stroke-width="1.5"/>
<line x1="250.75" y1="749.99" x2="250.75" y2="730.90" stroke="#808000" stroke-width="1.5"/>
<line x1="248.25" y1="730.90" x2="253.25" y2="730.90" stroke="#808000" stroke-width="1.5"/>
<line x1="250.75" y1="752.99" x2="250.75" y2="774.81" stroke="#808000" stroke-width="1.5"/>
<line x1="248.25" y1="774.81" x2="253.25" y2="774.81" stroke="#808000" stroke-width="1.5"/>
<line x1="272.05" y1="742.61" x2="272.05" y2="716.01" stroke="#808000" stroke-width="1.5"/>
<line x1="269.55" y1="716.01" x2="274.55" y2="716.01" stroke="#808000" stroke-width="1.5"/>
<line x1="272.05" y1="745.61" x2="272.05" y2="777.57" stroke="#808000" stroke-width="1.5"/>
<line x1="269.55" y1="777.57" x2="274.55" y2="777.57" stroke="#808000" stroke-width="1.5"/>
<line x1="293.35" y1="761.01" x2="293.35" y2="708.35" stroke="#808000" stroke-width="1.5"/>
<line x1="290.85" y1="708.35" x2="295.85" y2="708.35" stroke="#808000" stroke-width="1.5"/>
<line x1="293.35" y1="764.01" x2="293.35" y2="841.13" stroke="#808000" stroke-width="1.5"/>
<line x1="290.85" y1="841.13" x2="295.85" y2="841.13" stroke="#808000" stroke-width="1.5"/>
<line x1="325.30" y1="679.48" x2="325.30" y2="650.34" stroke="#808000" stroke-width="1.5"/>
<line x1="322.80" y1="650.34" x2="327.80" y2="650.34" stroke="#808000" stroke-width="1.5"/>
<line x1="325.30" y1="682.48" x2="325.30" y2="718.10" stroke="#808000" stroke-width="1.5"/>
<line x1="322.80" y1="718.10" x2="327.80" y2="718.10" stroke="#808000" stroke-width="1.5"/>
<polyline points="122.95,775.68 144.25,748.10 165.55,730.23 186.85,740.35 208.15,734.78 229.45,750.94 250.75,751.49 272.05,744.11 293.35,762.51 325.30,680.98 367.90,595.80 474.40,1021.60" fill="none" stroke="#808000" stroke-width="1.5"/>
<circle cx="122.95" cy="775.68" r="1.7" fill="#808000"/>
<circle cx="144.25" cy="748.10" r="1.7" fill="#808000"/>
<circle cx="165.55" cy="730.23" r="1.7" fill="#808000"/>
<circle cx="186.85" cy="740.35" r="1.7" fill="#808000"/>
<circle cx="208.15" cy="734.78" r="1.7" fill="#808000"/>
<circle cx="229.45" cy="750.94" r="1.7" fill="#808000"/>
<circle cx="250.75" cy="751.49" r="1.7" fill="#808000"/>
<circle cx="272.05" cy="744.11" r="1.7" fill="#808000"/>
<circle cx="293.35" cy="762.51" r="1.7" fill="#808000"/>
<circle cx="325.30" cy="680.98" r="1.7" fill="#808000"/>
</g>
<g stroke="#000" fill="none">
<rect x="91.0" y="35.0" width="651.1" height="599.9" stroke-width="1.85"/>
<rect x="91.0" y="634.9" width="651.1" height="321.0" stroke-width="1.85"/>
</g>
<path d="M112.30,35.00V39.00M112.30,634.90V630.90M112.30,634.90V637.90M112.30,955.90V953.40M133.60,35.00V43.00M133.60,634.90V626.90M133.60,634.90V639.90M133.60,955.90V951.40M154.90,35.00V39.00M154.90,634.90V630.90M154.90,634.90V637.90M154.90,955.90V953.40M176.20,35.00V43.00M176.20,634.90V626.90M176.20,634.90V639.90M176.20,955.90V951.40M197.50,35.00V39.00M197.50,634.90V630.90M197.50,634.90V637.90M197.50,955.90V953.40M218.80,35.00V43.00M218.80,634.90V626.90M218.80,634.90V639.90M218.80,955.90V951.40M240.10,35.00V39.00M240.10,634.90V630.90M240.10,634.90V637.90M240.10,955.90V953.40M261.40,35.00V43.00M261.40,634.90V626.90M261.40,634.90V639.90M261.40,955.90V951.40M282.70,35.00V39.00M282.70,634.90V630.90M282.70,634.90V637.90M282.70,955.90V953.40M304.00,35.00V50.50M304.00,634.90V619.40M304.00,634.90V644.90M304.00,955.90V945.90M325.30,35.00V39.00M325.30,634.90V630.90M325.30,634.90V637.90M325.30,955.90V953.40M346.60,35.00V43.00M346.60,634.90V626.90M346.60,634.90V639.90M346.60,955.90V951.40M367.90,35.00V39.00M367.90,634.90V630.90M367.90,634.90V637.90M367.90,955.90V953.40M389.20,35.00V43.00M389.20,634.90V626.90M389.20,634.90V639.90M389.20,955.90V951.40M410.50,35.00V39.00M410.50,634.90V630.90M410.50,634.90V637.90M410.50,955.90V953.40M431.80,35.00V43.00M431.80,634.90V626.90M431.80,634.90V639.90M431.80,955.90V951.40M453.10,35.00V39.00M453.10,634.90V630.90M453.10,634.90V637.90M453.10,955.90V953.40M474.40,35.00V43.00M474.40,634.90V626.90M474.40,634.90V639.90M474.40,955.90V951.40M495.70,35.00V39.00M495.70,634.90V630.90M495.70,634.90V637.90M495.70,955.90V953.40M517.00,35.00V50.50M517.00,634.90V619.40M517.00,634.90V644.90M517.00,955.90V945.90M538.30,35.00V39.00M538.30,634.90V630.90M538.30,634.90V637.90M538.30,955.90V953.40M559.60,35.00V43.00M559.60,634.90V626.90M559.60,634.90V639.90M559.60,955.90V951.40M580.90,35.00V39.00M580.90,634.90V630.90M580.90,634.90V637.90M580.90,955.90V953.40M602.20,35.00V43.00M602.20,634.90V626.90M602.20,634.90V639.90M602.20,955.90V951.40M623.50,35.00V39.00M623.50,634.90V630.90M623.50,634.90V637.90M623.50,955.90V953.40M644.80,35.00V43.00M644.80,634.90V626.90M644.80,634.90V639.90M644.80,955.90V951.40M666.10,35.00V39.00M666.10,634.90V630.90M666.10,634.90V637.90M666.10,955.90V953.40M687.40,35.00V43.00M687.40,634.90V626.90M687.40,634.90V639.90M687.40,955.90V951.40M708.70,35.00V39.00M708.70,634.90V630.90M708.70,634.90V637.90M708.70,955.90V953.40M730.00,35.00V50.50M730.00,634.90V619.40M730.00,634.90V644.90M730.00,955.90V945.90M91.00,593.70H102.60M742.10,593.70H731.30M91.00,559.36H102.60M742.10,559.36H731.30M91.00,535.00H102.60M742.10,535.00H731.30M91.00,516.10H102.60M742.10,516.10H731.30M91.00,500.66H102.60M742.10,500.66H731.30M91.00,487.61H102.60M742.10,487.61H731.30M91.00,476.30H102.60M742.10,476.30H731.30M91.00,466.32H102.60M742.10,466.32H731.30M91.00,457.40H113.60M742.10,457.40H720.30M91.00,398.70H102.60M742.10,398.70H731.30M91.00,364.36H102.60M742.10,364.36H731.30M91.00,340.00H102.60M742.10,340.00H731.30M91.00,321.10H102.60M742.10,321.10H731.30M91.00,305.66H102.60M742.10,305.66H731.30M91.00,292.61H102.60M742.10,292.61H731.30M91.00,281.30H102.60M742.10,281.30H731.30M91.00,271.32H102.60M742.10,271.32H731.30M91.00,262.40H113.60M742.10,262.40H720.30M91.00,203.70H102.60M742.10,203.70H731.30M91.00,169.36H102.60M742.10,169.36H731.30M91.00,145.00H102.60M742.10,145.00H731.30M91.00,126.10H102.60M742.10,126.10H731.30M91.00,110.66H102.60M742.10,110.66H731.30M91.00,97.61H102.60M742.10,97.61H731.30M91.00,86.30H102.60M742.10,86.30H731.30M91.00,76.32H102.60M742.10,76.32H731.30M91.00,67.40H113.60M742.10,67.40H720.30M91.00,917.90H106.00M742.10,917.90H727.10M91.00,885.78H101.00M742.10,885.78H732.10M91.00,858.63H101.00M742.10,858.63H732.10M91.00,835.11H101.00M742.10,835.11H732.10M91.00,814.36H101.00M742.10,814.36H732.10M91.00,795.80H106.00M742.10,795.80H727.10M91.00,779.01H101.00M742.10,779.01H732.10M91.00,763.68H101.00M742.10,763.68H732.10M91.00,749.58H101.00M742.10,749.58H732.10M91.00,736.53H101.00M742.10,736.53H732.10M91.00,724.38H106.00M742.10,724.38H727.10M91.00,713.01H101.00M742.10,713.01H732.10M91.00,702.33H101.00M742.10,702.33H732.10M91.00,692.26H101.00M742.10,692.26H732.10M91.00,682.74H101.00M742.10,682.74H732.10M91.00,673.70H106.00M742.10,673.70H727.10M91.00,665.11H101.00M742.10,665.11H732.10M91.00,656.91H101.00M742.10,656.91H732.10M91.00,649.08H101.00M742.10,649.08H732.10M91.00,641.59H101.00M742.10,641.59H732.10" stroke="#000" stroke-width="1.5" fill="none"/>
<g font-family='"Liberation Sans", Arial, Helvetica, sans-serif'>
<text x="102.46" y="28.70" font-size="24" fill="#000" xml:space="preserve" textLength="164.29" lengthAdjust="spacing">300 GeV ppbar</text>
<text x="550.60" y="28.70" font-size="24" fill="#000" xml:space="preserve" textLength="183.77" lengthAdjust="spacing">Underlying Event</text>
<text x="156.48" y="84.80" font-size="24" fill="#000" xml:space="preserve" textLength="232.26" lengthAdjust="spacing">{TransAVE charged p</text>
<text x="384.22" y="70.30" font-size="16" fill="#000" xml:space="preserve" textLength="35.14" lengthAdjust="spacing">{sum</text>
<text x="416.96" y="84.80" font-size="24" fill="#000" xml:space="preserve">}</text>
<text x="424.96" y="96.90" font-size="16" fill="#000" xml:space="preserve">T</text>
<text x="442.15" y="84.80" font-size="24" fill="#000" xml:space="preserve">density</text>
<text x="535.05" y="84.80" font-size="24" fill="#000" xml:space="preserve" textLength="140.72" lengthAdjust="spacing">s=300 {GeV}}</text>
<text x="187.10" y="129.70" font-size="18.7" fill="#000" xml:space="preserve" textLength="39.45" lengthAdjust="spacing">CDF</text>
<text x="187.11" y="155.90" font-size="18.7" fill="#000" xml:space="preserve" textLength="142.08" lengthAdjust="spacing">Pythia 6.428 345</text>
<text x="187.11" y="182.10" font-size="18.7" fill="#000" xml:space="preserve" textLength="142.00" lengthAdjust="spacing">Pythia 6.428 370</text>
<text x="187.11" y="208.50" font-size="18.7" fill="#000" xml:space="preserve">Pythia 6.428 ambt1</text>
<text x="187.11" y="233.80" font-size="18.7" fill="#000" xml:space="preserve" textLength="130.37" lengthAdjust="spacing">Pythia 6.428 z2</text>
<text x="55.43" y="75.60" font-size="22" fill="#000" xml:space="preserve" textLength="23.69" lengthAdjust="spacing">10</text>
<text x="70.01" y="270.50" font-size="22" fill="#000" xml:space="preserve">1</text>
<text x="41.43" y="467.70" font-size="22" fill="#000" xml:space="preserve" textLength="23.59" lengthAdjust="spacing">10</text>
<text x="72.80" y="457.80" font-size="14.7" fill="#000" xml:space="preserve">1</text>
<line x1="65.2" y1="454.1" x2="72.9" y2="454.1" stroke="#000" stroke-width="1.2"/>
<text x="63.71" y="683.00" font-size="23.5" fill="#000" xml:space="preserve">2</text>
<text x="64.40" y="805.00" font-size="23.5" fill="#000" xml:space="preserve">1</text>
<text x="45.00" y="925.30" font-size="23.5" fill="#000" xml:space="preserve" textLength="32.05" lengthAdjust="spacing">0.5</text>
<text x="747.91" y="682.90" font-size="23.5" fill="#000" xml:space="preserve">2</text>
<text x="746.25" y="804.90" font-size="23.5" fill="#000" xml:space="preserve">1</text>
<text x="747.60" y="925.30" font-size="23.5" fill="#000" xml:space="preserve" textLength="33.45" lengthAdjust="spacing">0.5</text>
<text x="84.90" y="978.00" font-size="23.5" fill="#000" xml:space="preserve">0</text>
<text x="297.93" y="978.00" font-size="23.5" fill="#000" xml:space="preserve">5</text>
<text x="504.20" y="978.00" font-size="23.5" fill="#000" xml:space="preserve">10</text>
<text x="717.10" y="978.00" font-size="23.5" fill="#000" xml:space="preserve">15</text>
<text x="599.78" y="1007.60" font-size="24" fill="#000" xml:space="preserve" textLength="22.08" lengthAdjust="spacing">{p</text>
<text x="621.72" y="992.20" font-size="16" fill="#000" xml:space="preserve" textLength="36.15" lengthAdjust="spacing">{max</text>
<text x="621.46" y="1021.80" font-size="16" fill="#000" xml:space="preserve">T</text>
<text x="657.81" y="1007.60" font-size="24" fill="#000" xml:space="preserve">}</text>
<text x="672.38" y="1007.40" font-size="24" fill="#000" xml:space="preserve" textLength="71.49" lengthAdjust="spacing">[GeV]}</text>
<text transform="translate(31.20,0) rotate(-90)" x="-394.42" y="0" font-size="24" fill="#000" xml:space="preserve">{(1/N</text>
<text transform="translate(42.30,0) rotate(-90)" x="-342.43" y="0" font-size="16" fill="#000" xml:space="preserve" textLength="46.55" lengthAdjust="spacing">events</text>
<text transform="translate(31.20,0) rotate(-90)" x="-297.09" y="0" font-size="24" fill="#000" xml:space="preserve">)</text>
<text transform="translate(31.20,0) rotate(-90)" x="-283.05" y="0" font-size="24" fill="#000" xml:space="preserve" textLength="27.61" lengthAdjust="spacing">dp</text>
<text transform="translate(17.30,0) rotate(-90)" x="-253.98" y="0" font-size="16" fill="#000" xml:space="preserve" textLength="34.04" lengthAdjust="spacing">{sum</text>
<text transform="translate(31.20,0) rotate(-90)" x="-222.42" y="0" font-size="24" fill="#000" xml:space="preserve" textLength="77.58" lengthAdjust="spacing">}{T} /dη</text>
<text transform="translate(31.20,0) rotate(-90)" x="-132.15" y="0" font-size="24" fill="#000" xml:space="preserve" textLength="98.97" lengthAdjust="spacing">dϕ [GeV]}</text>
<text transform="translate(35.80,0) rotate(-90)" x="-844.55" y="0" font-size="17.5" fill="#000" xml:space="preserve" textLength="103.51" lengthAdjust="spacing">Ratio to CDF</text>
<text transform="translate(759.90,0) rotate(-90)" x="-254.57" y="0" font-size="19" fill="#666" xml:space="preserve" textLength="218.41" lengthAdjust="spacing">Rivet 4.1.0, ≥ 100k events</text>
<text transform="translate(761.80,0) rotate(-90)" x="-628.91" y="0" font-size="19" fill="#666" xml:space="preserve" textLength="297.24" lengthAdjust="spacing">mcplots.cern.ch [arXiv:2401.10621]</text>
<text x="335.40" y="603.70" font-size="15.8" fill="#999" xml:space="preserve" textLength="162.20" lengthAdjust="spacing">(CDF_2015_I1388868)</text>
</g>
<rect x="147.80" y="118.80" width="11" height="11" fill="#000"/>
<line x1="128.5" y1="150.3" x2="175.0" y2="150.3" stroke="#b8304f" stroke-width="1.3" stroke-dasharray="4.5,3.9"/>
<circle cx="153.20" cy="150.45" r="4.85" fill="none" stroke="#b8304f" stroke-width="1.35"/>
<line x1="128.7" y1="176.25" x2="177.2" y2="176.25" stroke="#a0002a" stroke-width="1.3"/>
<path d="M147.40,181.55L158.80,181.55L153.10,170.65Z" fill="none" stroke="#a0002a" stroke-width="1.7"/>
<line x1="128.7" y1="202.3" x2="177.2" y2="202.3" stroke="#f5a300" stroke-width="1.3"/>
<path d="M148.80,206.60L157.40,206.60L153.10,198.15Z" fill="none" stroke="#f5a300" stroke-width="1.5"/>
<line x1="128.7" y1="228.6" x2="177.2" y2="228.6" stroke="#808000" stroke-width="1.3"/>
<circle cx="153.10" cy="228.60" r="1.7" fill="#808000"/>
<path d="M526.6,72.2L529.9,85.2L532.6,64.6H546.8" fill="none" stroke="#000" stroke-width="1.3" stroke-linejoin="miter"/>
</svg>
</body></html>
